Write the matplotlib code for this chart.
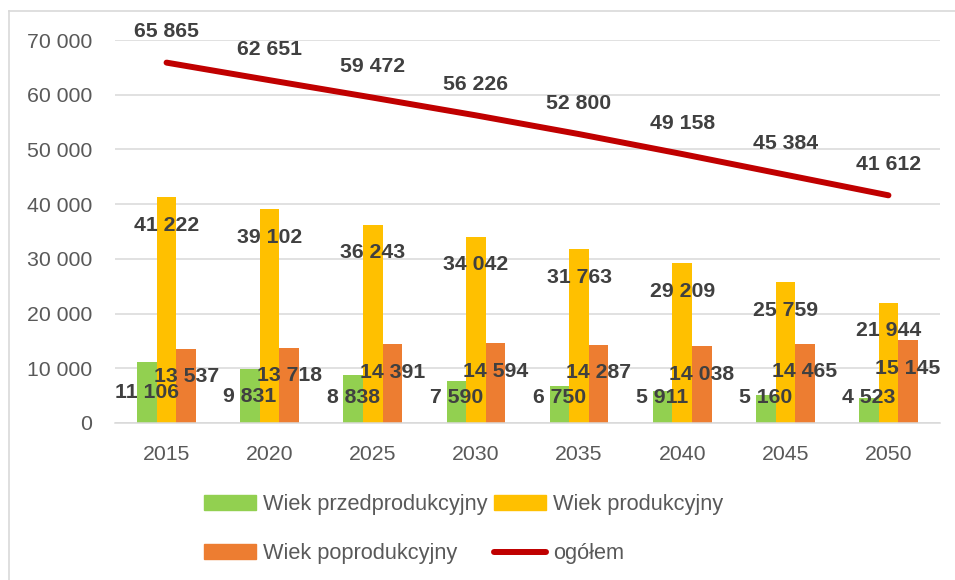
import matplotlib
matplotlib.use("Agg")
import matplotlib.pyplot as plt
from matplotlib.patches import Patch
from matplotlib.lines import Line2D
import numpy as np

years = ["2015", "2020", "2025", "2030", "2035", "2040", "2045", "2050"]
przed = [11106, 9831, 8838, 7590, 6750, 5911, 5160, 4523]
prod = [41222, 39102, 36243, 34042, 31763, 29209, 25759, 21944]
poprod = [13537, 13718, 14391, 14594, 14287, 14038, 14465, 15145]
ogolem = [65865, 62651, 59472, 56226, 52800, 49158, 45384, 41612]
series_names = ["Wiek przedprodukcyjny", "Wiek produkcyjny", "Wiek poprodukcyjny", "ogółem"]

C_GREEN = "#92D050"
C_YELLOW = "#FFC000"
C_ORANGE = "#ED7D31"
C_RED = "#C00000"
C_TXT = "#404040"
C_TICK = "#595959"
C_GRID = "#D9D9D9"

plt.rcParams["font.family"] = ["Liberation Sans", "DejaVu Sans"]

W, H = 955, 580
fig = plt.figure(figsize=(W / 100, H / 100), dpi=100)
ax = fig.add_axes([115 / W, 1 - 423 / H, (940 - 115) / W, (423 - 40) / H])

def fmt(v):
    return f"{v:,}".replace(",", " ")

x = np.arange(len(years))
bw = 0.19
ax.bar(x - bw, przed, bw, color=C_GREEN, zorder=2)
ax.bar(x, prod, bw, color=C_YELLOW, zorder=2)
ax.bar(x + bw, poprod, bw, color=C_ORANGE, zorder=2)
ax.plot(x, ogolem, color=C_RED, lw=4.3, solid_capstyle="round", zorder=3)

lab_kw = dict(ha="center", va="center", fontsize=15.3, fontweight="bold",
              color=C_TXT, textcoords="offset pixels", zorder=5)
for i in range(len(years)):
    ax.annotate(fmt(prod[i]), (x[i], prod[i]), xytext=(0, -28), **lab_kw)
    ax.annotate(fmt(poprod[i]), (x[i] + bw, poprod[i]), xytext=(0, -28), **lab_kw)
    gy = max(przed[i] * 0.5, 4600)
    ax.annotate(fmt(przed[i]), (x[i] - bw, gy), xytext=(0, 0), **lab_kw)
    ax.annotate(fmt(ogolem[i]), (x[i], ogolem[i]), xytext=(0, 31), **lab_kw)

ax.set_xlim(-0.5, len(years) - 0.5)
ax.set_ylim(0, 70000)
ax.set_yticks(np.arange(0, 70001, 10000))
ax.set_yticklabels([fmt(v) for v in range(0, 70001, 10000)])
ax.set_xticks(x)
ax.set_xticklabels(years)
ax.tick_params(axis="both", length=0, labelsize=15.3, labelcolor=C_TICK)
ax.tick_params(axis="y", pad=16.5)
ax.tick_params(axis="x", pad=15.5)
ax.grid(axis="y", color=C_GRID, lw=1.1, zorder=0)
ax.set_axisbelow(True)
for s in ["top", "right", "left"]:
    ax.spines[s].set_visible(False)
ax.spines["bottom"].set_color(C_GRID)
ax.spines["bottom"].set_linewidth(1.1)

handles = [
    Patch(color=C_GREEN, label=series_names[0]),
    Patch(color=C_ORANGE, label=series_names[2]),
    Patch(color=C_YELLOW, label=series_names[1]),
    Line2D([], [], color=C_RED, lw=4.3, solid_capstyle="round", label=series_names[3]),
]
leg = fig.legend(handles=handles, ncol=2, loc="center left",
                 bbox_to_anchor=(204 / W, 1 - 529 / H), frameon=False,
                 fontsize=15.7, borderpad=0, borderaxespad=0,
                 handlelength=2.4, handleheight=0.68, handletextpad=0.3,
                 columnspacing=0.3, labelspacing=1.3)
for t in leg.get_texts():
    t.set_color(C_TICK)

fig.add_artist(Line2D([9 / W, 9 / W], [0, 1 - 11 / H], color=C_GRID, lw=1.2))
fig.add_artist(Line2D([9 / W, 1], [1 - 11 / H, 1 - 11 / H], color=C_GRID, lw=1.2))

fig.savefig("out.png", dpi=100)
